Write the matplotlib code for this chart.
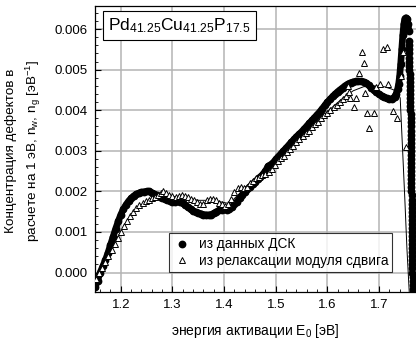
import matplotlib
matplotlib.use("Agg")
import matplotlib.pyplot as plt
from matplotlib.ticker import MultipleLocator

plt.rcParams['font.family'] = ['Liberation Sans', 'DejaVu Sans']
plt.rcParams['mathtext.fontset'] = 'custom'
plt.rcParams['mathtext.rm'] = 'Liberation Sans'
plt.rcParams['mathtext.it'] = 'Liberation Sans'
plt.rcParams['mathtext.default'] = 'regular'

# ---- DSC data (filled circles) ----
dsc_x = [1.150, 1.155, 1.160, 1.165, 1.170, 1.175, 1.180, 1.185, 1.190, 1.195,
         1.200, 1.205, 1.210, 1.215, 1.220, 1.225, 1.230, 1.235, 1.240, 1.245,
         1.250, 1.255, 1.260, 1.265, 1.270, 1.275, 1.280, 1.285, 1.290, 1.295,
         1.300, 1.305, 1.310, 1.315, 1.320, 1.325, 1.330, 1.335, 1.340, 1.345,
         1.350, 1.355, 1.360, 1.365, 1.370, 1.375, 1.380, 1.385, 1.390, 1.395,
         1.400, 1.405, 1.410, 1.415, 1.420, 1.425, 1.430, 1.435, 1.440, 1.445,
         1.450, 1.455, 1.460, 1.465, 1.470, 1.475, 1.480, 1.485, 1.490, 1.495,
         1.500, 1.505, 1.510, 1.515, 1.520, 1.525, 1.530, 1.535, 1.540, 1.545,
         1.550, 1.555, 1.560, 1.565, 1.570, 1.575, 1.580, 1.585, 1.590, 1.595,
         1.600, 1.605, 1.610, 1.615, 1.620, 1.625, 1.630, 1.635, 1.640, 1.645,
         1.650, 1.655, 1.660, 1.665, 1.670, 1.675, 1.680, 1.685, 1.690, 1.695,
         1.700, 1.705, 1.710, 1.715, 1.720, 1.725, 1.730, 1.733, 1.736, 1.738,
         1.740, 1.742, 1.744, 1.746, 1.748, 1.750, 1.752, 1.754, 1.756, 1.758]
dsc_y = [-0.00035, -0.00020, 0.00000, 0.00015, 0.00030, 0.00048, 0.00068, 0.00088, 0.00108, 0.00126,
         0.00143, 0.00156, 0.00167, 0.00176, 0.00183, 0.00189, 0.00193, 0.00196, 0.00198, 0.00199,
         0.00200, 0.00200, 0.00197, 0.00193, 0.00190, 0.00187, 0.00184, 0.00181, 0.00179, 0.00177,
         0.00175, 0.00175, 0.00176, 0.00175, 0.00171, 0.00166, 0.00161, 0.00156, 0.00152, 0.00149,
         0.00147, 0.00145, 0.00143, 0.00142, 0.00142, 0.00143, 0.00146, 0.00150, 0.00153, 0.00155,
         0.00156, 0.00155, 0.00157, 0.00162, 0.00168, 0.00175, 0.00183, 0.00191, 0.00198, 0.00205,
         0.00212, 0.00218, 0.00224, 0.00230, 0.00236, 0.00242, 0.00250, 0.00262, 0.00266, 0.00271,
         0.00279, 0.00286, 0.00293, 0.00300, 0.00307, 0.00314, 0.00321, 0.00328, 0.00335, 0.00341,
         0.00347, 0.00354, 0.00361, 0.00368, 0.00375, 0.00382, 0.00389, 0.00396, 0.00404, 0.00412,
         0.00420, 0.00427, 0.00434, 0.00440, 0.00446, 0.00451, 0.00456, 0.00461, 0.00465, 0.00468,
         0.00470, 0.00471, 0.00471, 0.00471, 0.00470, 0.00467, 0.00462, 0.00456, 0.00450, 0.00445,
         0.00440, 0.00436, 0.00432, 0.00429, 0.00427, 0.00428, 0.00433, 0.00440, 0.00452, 0.00465,
         0.00485, 0.00515, 0.00550, 0.00585, 0.00612, 0.00626, 0.00628, 0.00624, 0.00612, 0.00595]
# steep fall after the peak (column of dots)
drop_x = [1.759, 1.759, 1.759, 1.759, 1.759, 1.759, 1.759, 1.759,
          1.760, 1.760, 1.760, 1.760, 1.760, 1.760, 1.760, 1.760, 1.760, 1.760,
          1.761, 1.761, 1.761, 1.761, 1.761, 1.761, 1.761, 1.761, 1.761, 1.761,
          1.762, 1.762, 1.762, 1.762, 1.762, 1.762, 1.762, 1.762, 1.762, 1.762,
          1.763, 1.763, 1.763, 1.763, 1.763, 1.763, 1.763, 1.763, 1.763, 1.763,
          1.764, 1.764, 1.764, 1.764, 1.764, 1.764, 1.764, 1.764, 1.764, 1.764,
          1.765, 1.765, 1.765, 1.765, 1.765, 1.765]
drop_y = [0.0057, 0.0056, 0.0055, 0.0054, 0.0053, 0.0052, 0.0051, 0.0050,
          0.0049, 0.0048, 0.0047, 0.0046, 0.0045, 0.0044, 0.0043, 0.0042, 0.0041, 0.0040,
          0.0039, 0.0038, 0.0037, 0.0036, 0.0035, 0.0034, 0.0033, 0.0032, 0.0031, 0.0030,
          0.0029, 0.0028, 0.0027, 0.0026, 0.0025, 0.0024, 0.0023, 0.0022, 0.0021, 0.0020,
          0.0019, 0.0018, 0.0017, 0.0016, 0.0015, 0.0014, 0.0013, 0.0012, 0.0011, 0.0010,
          0.0009, 0.0008, 0.0007, 0.0006, 0.0005, 0.0004, 0.0003, 0.0002, 0.0001, 0.0000,
          -0.0001, -0.0002, -0.0003, -0.0004, -0.0005, -0.0006]

# ---- shear modulus relaxation data (open triangles) ----
tri_x = [1.152, 1.158, 1.164, 1.170, 1.176, 1.182, 1.188, 1.194, 1.200, 1.206,
         1.212, 1.218, 1.224, 1.230, 1.236, 1.242, 1.248, 1.254, 1.260, 1.266,
         1.272, 1.278, 1.282, 1.288, 1.294, 1.300, 1.306, 1.312, 1.318, 1.324,
         1.330, 1.336, 1.342, 1.348, 1.354, 1.360, 1.366, 1.372, 1.378, 1.384,
         1.390, 1.396, 1.402, 1.408, 1.414, 1.420, 1.426, 1.432, 1.438, 1.444,
         1.450, 1.456, 1.462, 1.468, 1.474, 1.480, 1.486, 1.492, 1.498, 1.504,
         1.510, 1.516, 1.522, 1.528, 1.534, 1.540, 1.546, 1.552, 1.558, 1.564,
         1.570, 1.576, 1.582, 1.588, 1.594, 1.600, 1.606, 1.612, 1.618, 1.624,
         1.630, 1.636, 1.642,
         1.640, 1.643, 1.652, 1.656, 1.661, 1.668, 1.671, 1.673, 1.676, 1.681,
         1.691, 1.695, 1.702, 1.708, 1.716, 1.717, 1.727, 1.734, 1.743, 1.747, 1.752]
tri_y = [-0.00015, 0.00000, 0.00012, 0.00025, 0.00040, 0.00055, 0.00070, 0.00085, 0.00100, 0.00115,
         0.00128, 0.00140, 0.00150, 0.00160, 0.00166, 0.00172, 0.00177, 0.00180, 0.00183, 0.00186,
         0.00190, 0.00196, 0.00200, 0.00195, 0.00192, 0.00188, 0.00186, 0.00188, 0.00190, 0.00188,
         0.00186, 0.00182, 0.00178, 0.00174, 0.00170, 0.00168, 0.00180, 0.00182, 0.00182, 0.00180,
         0.00172, 0.00168, 0.00165, 0.00170, 0.00182, 0.00198, 0.00208, 0.00212, 0.00208, 0.00212,
         0.00220, 0.00226, 0.00232, 0.00236, 0.00240, 0.00242, 0.00248, 0.00255, 0.00265, 0.00274,
         0.00282, 0.00288, 0.00296, 0.00304, 0.00312, 0.00322, 0.00328, 0.00336, 0.00344, 0.00350,
         0.00358, 0.00366, 0.00372, 0.00380, 0.00388, 0.00394, 0.00400, 0.00408, 0.00414, 0.00420,
         0.00428, 0.00436, 0.00446,
         0.00461, 0.00430, 0.00409, 0.00430, 0.00493, 0.00544, 0.00517, 0.00442, 0.00393, 0.00356,
         0.00393, 0.00458, 0.00465, 0.00550, 0.00556, 0.00465, 0.00397, 0.00380, 0.00484, 0.00544, 0.00310]

# ---- thin smooth line ----
fit_x = [1.150, 1.170, 1.190, 1.210, 1.230, 1.250, 1.270, 1.290, 1.310, 1.330,
         1.350, 1.370, 1.390, 1.410, 1.430, 1.450, 1.470, 1.490, 1.510, 1.530,
         1.550, 1.570, 1.590, 1.610, 1.630, 1.650, 1.670, 1.690, 1.710, 1.725,
         1.735, 1.741, 1.745, 1.750, 1.754, 1.759]
fit_y = [-0.00020, 0.00025, 0.00080, 0.00122, 0.00155, 0.00175, 0.00187, 0.00190, 0.00186, 0.00183,
         0.00178, 0.00178, 0.00175, 0.00170, 0.00195, 0.00218, 0.00236, 0.00252, 0.00282, 0.00310,
         0.00336, 0.00360, 0.00385, 0.00408, 0.00430, 0.00448, 0.00458, 0.00460, 0.00458, 0.00452,
         0.00446, 0.00430, 0.00320, 0.00180, 0.00060, -0.00060]

x_ticks = [1.2, 1.3, 1.4, 1.5, 1.6, 1.7]
y_ticks = [0.000, 0.001, 0.002, 0.003, 0.004, 0.005, 0.006]
y_labels = ["0.000", "0.001", "0.002", "0.003", "0.004", "0.005", "0.006"]

fig = plt.figure(figsize=(4.16, 3.39), dpi=100)
ax = fig.add_axes([95/416, 47/339, 1 - 95/416, 286/339])

ax.grid(True, color='#b4b4b4', linewidth=1.1, zorder=0)
ax.set_axisbelow(True)

ax.plot(fit_x, fit_y, color='black', linewidth=0.7, zorder=2)
# dense DSC points rendered as a continuous band of dots
ax.plot(dsc_x, dsc_y, color='black', linewidth=4.8, solid_capstyle='round', zorder=3)
ax.plot(dsc_x + drop_x, dsc_y + drop_y, linestyle='none', marker='o', markersize=4.6,
        color='black', zorder=3, label='из данных ДСК')
ax.plot(tri_x, tri_y, linestyle='none', marker='^', markersize=4.8, markerfacecolor='white',
        markeredgecolor='black', markeredgewidth=0.7, zorder=4,
        label='из релаксации модуля сдвига')

ax.set_xlim(1.15, 1.7716)
ax.set_ylim(-0.00048, 0.00657)
ax.set_xticks(x_ticks)
ax.set_xticklabels([f"{v:.1f}" for v in x_ticks])
ax.set_yticks(y_ticks)
ax.set_yticklabels(y_labels)
ax.xaxis.set_minor_locator(MultipleLocator(0.02))
ax.yaxis.set_minor_locator(MultipleLocator(0.0002))
ax.tick_params(which='major', direction='in', length=4, width=0.8, labelsize=9.5, pad=5)
ax.tick_params(which='minor', direction='in', length=2.2, width=0.6)
ax.tick_params(top=False, right=False)
ax.spines['right'].set_visible(False)
for s in ['left', 'bottom', 'top']:
    ax.spines[s].set_linewidth(0.9)

ax.set_xlabel('энергия активации E$_0$ [эВ]', fontsize=10, labelpad=8)
fig.text(24/416, 0.555, 'Концентрация дефектов в\nрасчете на 1 эВ, n$_w$, n$_g$ [эВ$^{-1}$]',
         rotation=90, ha='center', va='center', fontsize=9.7, linespacing=1.5)

leg = ax.legend(loc='lower left', frameon=True, fancybox=False, edgecolor='black', fontsize=9.8,
                handletextpad=0.6, borderpad=0.3, labelspacing=0.2, handlelength=1.3)
leg.set_bbox_to_anchor((162/416, (339-279)/339), transform=fig.transFigure)
leg.get_frame().set_linewidth(0.8)

ax.text(0.04, 0.965, 'Pd$_{41.25}$Cu$_{41.25}$P$_{17.5}$', transform=ax.transAxes,
        ha='left', va='top', fontsize=12.5,
        bbox=dict(boxstyle='square,pad=0.3', facecolor='white', edgecolor='black', linewidth=0.8))

fig.savefig('out.png', dpi=100)
